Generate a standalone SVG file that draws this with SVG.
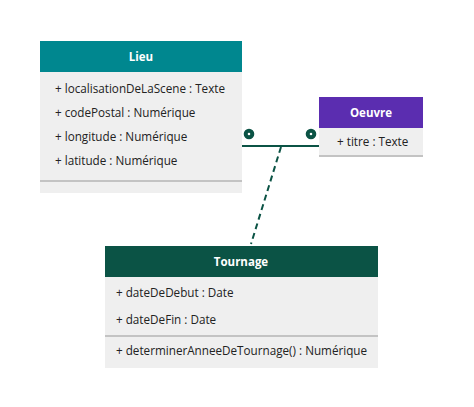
<svg xmlns="http://www.w3.org/2000/svg" width="474" height="407" viewBox="0 0 474 407">
<style>
.body{fill:#efefef}
.sep{stroke:#b4b4b4;stroke-width:1.5}
.hd{font-family:"Open Sans","Liberation Sans",sans-serif;font-weight:bold;font-size:11.5px;fill:#fff;text-anchor:middle}
.at{font-family:"Open Sans","Liberation Sans",sans-serif;font-size:11.7px;fill:#222}
.conn{stroke:#0b5345;stroke-width:2;fill:none}
.mult{fill:#fff;stroke:#0b5345;stroke-width:4}
</style>
<rect width="474" height="407" fill="#fff"/>
<g id="lieu">
<rect class="body" x="40" y="41" width="202" height="152"/>
<rect x="40" y="41" width="202" height="31" fill="#00878f"/>
<text class="hd" x="141" y="61">Lieu</text>
<text class="at" x="55" y="93">+ localisationDeLaScene : Texte</text>
<text class="at" x="55" y="117">+ codePostal : Numérique</text>
<text class="at" x="55" y="141">+ longitude : Numérique</text>
<text class="at" x="55" y="165">+ latitude : Numérique</text>
<line class="sep" x1="40" y1="181" x2="242" y2="181"/>
</g>
<g id="oeuvre">
<rect class="body" x="319" y="97" width="104" height="60"/>
<rect x="319" y="97" width="104" height="31" fill="#5b2db0"/>
<text class="hd" x="371" y="117">Oeuvre</text>
<text class="at" x="337" y="146">+ titre : Texte</text>
<line class="sep" x1="319" y1="156" x2="423" y2="156"/>
</g>
<g id="tournage">
<rect class="body" x="105" y="246" width="273" height="122"/>
<rect x="105" y="246" width="273" height="31" fill="#0b5345"/>
<text class="hd" x="241" y="266">Tournage</text>
<text class="at" x="116" y="297">+ dateDeDebut : Date</text>
<text class="at" x="116" y="324">+ dateDeFin : Date</text>
<line class="sep" x1="105" y1="336" x2="378" y2="336"/>
<text class="at" x="116" y="355">+ determinerAnneeDeTournage() : Numérique</text>
</g>
<g id="connectors">
<line class="conn" x1="242" y1="146" x2="319" y2="146"/>
<line class="conn" x1="281" y1="147" x2="251" y2="244" stroke-dasharray="6,4"/>
<circle class="mult" cx="249" cy="134" r="3.3"/>
<circle class="mult" cx="311" cy="134" r="3.3"/>
</g>
</svg>
